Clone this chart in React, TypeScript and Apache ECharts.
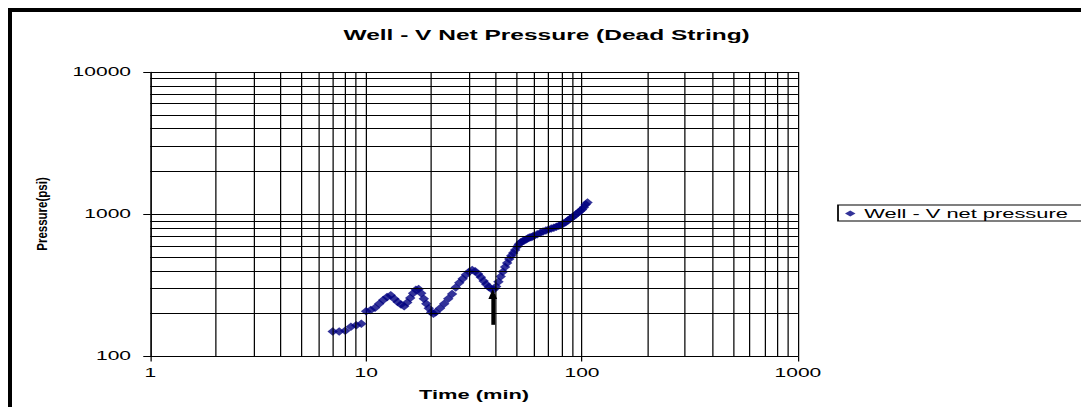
import React, { useEffect, useRef } from "react";
import * as echarts from "echarts";

// ---- data ----
const timeMin = [
  7, 7.5, 8, 8.5, 9, 9.5, 10, 10.5, 11, 11.5, 12, 12.5, 13, 13.5, 14, 14.5, 15, 15.5, 16, 16.5,
  17, 17.5, 18, 18.5, 19, 19.5, 20, 20.5,
  21, 22, 23, 24, 25, 26, 27, 28, 29, 30, 31, 32, 33, 34, 35, 36, 37, 38, 39, 40,
  41, 42, 43, 44, 45, 46, 47, 48, 49, 50, 51, 52, 53, 54, 55, 56, 57, 58, 59, 60,
  62, 64, 66, 68, 70, 72, 74, 76, 78, 80, 82, 84, 86, 88, 90, 92, 94, 96, 98, 100, 102, 104, 106,
];
const netPressure = [
  150, 150, 152, 162, 166, 170, 208, 212, 220, 235, 250, 262, 270, 255, 242, 232, 226, 240, 258, 278,
  295, 298, 278, 255, 235, 218, 205, 200,
  205, 218, 235, 255, 275, 305, 330, 352, 375, 395, 405, 398, 380, 360, 340, 322, 308, 298, 296, 310,
  335, 365, 395, 425, 455, 485, 510, 535, 560, 590, 615, 635, 645, 655, 665, 675, 685, 690, 698, 705,
  722, 738, 755, 770, 782, 795, 805, 818, 830, 843, 860, 880, 905, 930, 950, 975, 1000, 1030, 1055, 1080, 1120, 1170, 1210,
];
const xMinorGrid = [2, 3, 4, 5, 6, 7, 8, 9, 20, 30, 40, 50, 60, 70, 80, 90, 200, 300, 400, 500, 600, 700, 800, 900];
const yMinorGrid = [200, 300, 400, 500, 600, 700, 800, 900, 2000, 3000, 4000, 5000, 6000, 7000, 8000, 9000];
const arrowTime = 38.6;
const arrowFrom = 167;
const arrowTo = 275;

const titleText = "Well - V Net Pressure (Dead String)";
const seriesName = "Well - V net pressure";
const xTitle = "Time (min)";
const yTitle = "Pressure(psi)";

const FONT = 'Arial, "Liberation Sans", sans-serif';
const STRETCH = 1.75;
const CHART_W = 611;
const CHART_H = 395;

export default function App() {
  const ref = useRef<HTMLDivElement>(null);

  useEffect(() => {
    if (!ref.current) return;
    const chart = echarts.init(ref.current, undefined, { renderer: "svg" });
    const points = timeMin.map((t, i) => [t, netPressure[i]]);
    const plain = (v: number) => String(Math.round(v));

    chart.setOption({
      animation: false,
      backgroundColor: "#fff",
      title: {
        text: titleText,
        left: "center",
        top: 16,
        padding: 0,
        textStyle: { fontFamily: FONT, fontSize: 14, fontWeight: "bold", color: "#000" },
      },
      legend: {
        data: [seriesName],
        left: 472,
        top: 193,
        padding: [2, 8, 1, 4],
        borderColor: "#000",
        borderWidth: 1,
        backgroundColor: "#fff",
        itemWidth: 6,
        itemHeight: 6,
        selectedMode: false,
        textStyle: { fontFamily: FONT, fontSize: 12.5, color: "#000" },
      },
      grid: { left: 79, right: CHART_W - 449.1, top: 60, bottom: CHART_H - 344.5 },
      xAxis: {
        type: "log",
        logBase: 10,
        min: 1,
        max: 1000,
        name: xTitle,
        nameLocation: "middle",
        nameGap: 32,
        nameTextStyle: { fontFamily: FONT, fontSize: 12.5, fontWeight: "bold", color: "#000" },
        axisLine: { show: true, lineStyle: { color: "#000", width: 1 } },
        axisTick: { show: true, length: 5, lineStyle: { color: "#000", width: 0.7 } },
        axisLabel: { fontFamily: FONT, fontSize: 12, color: "#000", margin: 11, formatter: plain },
        splitLine: { show: true, lineStyle: { color: "#000", width: 0.7 } },
      },
      yAxis: {
        type: "log",
        logBase: 10,
        min: 100,
        max: 10000,
        axisLine: { show: true, lineStyle: { color: "#000", width: 0.7 } },
        axisTick: { show: true, length: 4, lineStyle: { color: "#000", width: 1 } },
        axisLabel: { fontFamily: FONT, fontSize: 12, color: "#000", margin: 11, formatter: plain },
        splitLine: { show: true, lineStyle: { color: "#000", width: 1 } },
      },
      graphic: [
        {
          type: "text",
          x: 17.4,
          y: 202,
          rotation: Math.PI / 2,
          scaleY: 0.72,
          style: {
            text: yTitle,
            fontFamily: FONT,
            fontSize: 11.5,
            fontWeight: "bold",
            fill: "#000",
            align: "center",
            verticalAlign: "middle",
          },
        },
      ],
      series: [
        {
          name: "grid",
          type: "scatter",
          data: [],
          silent: true,
          z: 1,
          markLine: {
            silent: true,
            symbol: "none",
            label: { show: false },
            lineStyle: { color: "#000", type: "solid", width: 1 },
            emphasis: { disabled: true },
            data: [
              ...xMinorGrid.map((v) => ({ xAxis: v, lineStyle: { color: "#000", type: "solid", width: 0.7 } })),
              ...yMinorGrid.map((v) => ({ yAxis: v, lineStyle: { color: "#000", type: "solid", width: 1 } })),
            ],
          },
        },
        {
          name: seriesName,
          type: "scatter",
          data: points,
          symbol: "diamond",
          symbolSize: [6, 8.5],
          itemStyle: { color: "#000080" },
          z: 3,
          markLine: {
            silent: true,
            symbol: ["none", "triangle"],
            symbolSize: [5, 10],
            label: { show: false },
            emphasis: { disabled: true },
            lineStyle: { color: "#000", type: "solid", width: 2.2 },
            data: [[{ coord: [arrowTime, arrowFrom] }, { coord: [arrowTime, arrowTo] }]],
          },
        },
      ],
    });

    return () => chart.dispose();
  }, []);

  return (
    <div
      style={{
        borderTop: "4px solid #000",
        borderLeft: "4px solid #000",
        width: 1069,
        height: CHART_H,
        overflow: "hidden",
        background: "#fff",
      }}
    >
      <div
        ref={ref}
        style={{
          width: CHART_W,
          height: CHART_H,
          transform: `scaleX(${STRETCH})`,
          transformOrigin: "0 0",
        }}
      />
    </div>
  );
}
